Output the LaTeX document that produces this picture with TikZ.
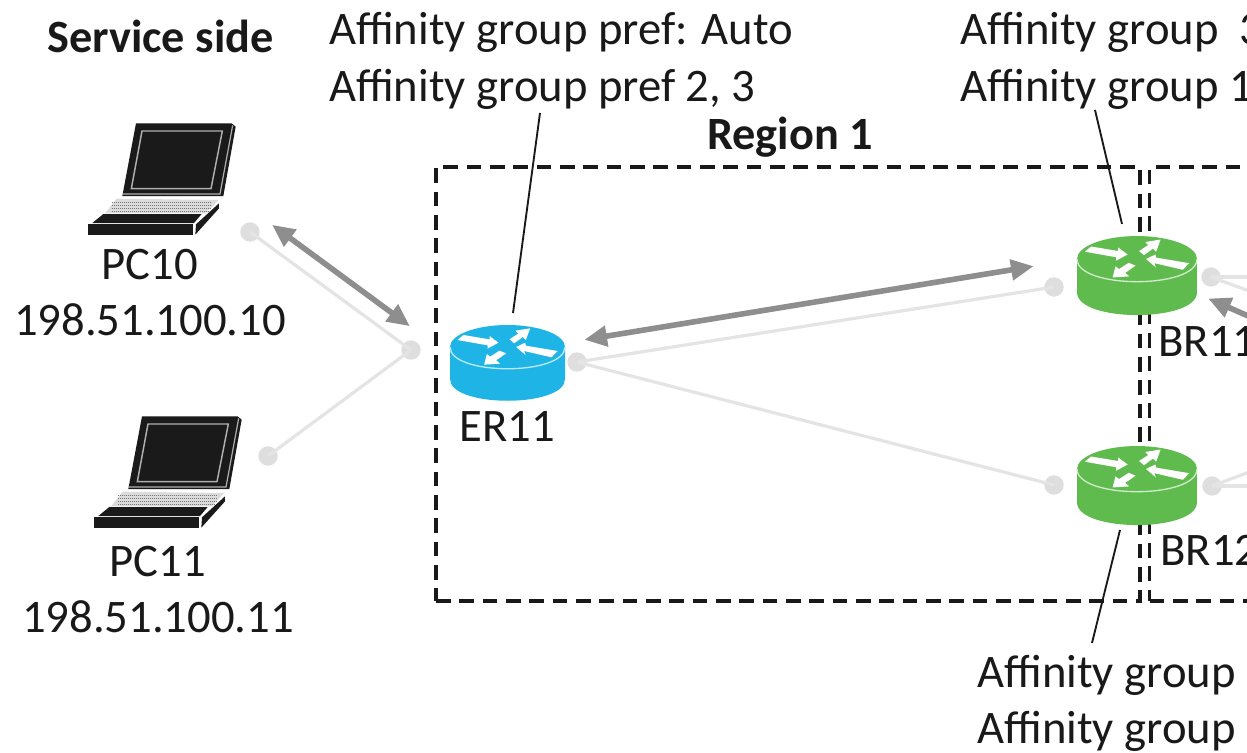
\documentclass[tikz,border=0pt]{standalone}
\usepackage{fontspec}
\usetikzlibrary{arrows.meta}
\setmainfont{Carlito}
\definecolor{dotgrey}{HTML}{DEDEDE}
\definecolor{linegrey}{HTML}{E4E4E4}
\definecolor{arrowgrey}{HTML}{8E8E8E}
\definecolor{erblue}{HTML}{1FB4E6}
\definecolor{brgreen}{HTML}{5FBB4E}
\definecolor{lapblack}{HTML}{1A1A1A}
\definecolor{lapgrey}{HTML}{B0B0B0}
\definecolor{keygrey}{HTML}{DCDCDC}
\tikzset{
  lbl/.style={inner sep=0pt,font=\fontsize{35}{40}\selectfont,text=black!90},
  lblb/.style={lbl,font=\fontsize{34.7}{40}\selectfont\bfseries},
  dotnode/.style={circle,fill=dotgrey,inner sep=0pt,minimum size=14.5pt},
  lightlink/.style={draw=linegrey,line width=2.4pt},
  flow/.style={draw=arrowgrey,line width=4.2pt,shorten >=1pt,shorten <=1pt},
  region/.style={draw=black!90,line width=2.6pt,dash pattern=on 11pt off 6.5pt,outer sep=0pt,inner sep=0pt},
  leader/.style={draw=black!90,line width=1.4pt},
  pics/router/.style={code={
    \fill[#1] (-57.5,0) -- (-57.5,32) .. controls (-57.5,61) and (57.5,61) .. (57.5,32) -- (57.5,0) -- cycle;
    \fill[#1] (0,0) ellipse [x radius=57.5,y radius=22];
    \draw[white!70!#1,line width=1pt] (-57.5,0) .. controls (-57.5,29) and (57.5,29) .. (57.5,0);
    \begin{scope}[scale=.33333,shift={(-232,-141)}]
      \fill[white] (82,120)--(100,105)--(178,118)--(178,108)--(205,128)--(172,146)--(172,136)--cycle;
      \fill[white] (300,85)--(256,92)--(264,101)--(238,118)--(252,130)--(278,111)--(287,120)--cycle;
      \fill[white] (258,141)--(285,128)--(287,137)--(382,153)--(364,172)--(282,153)--(286,165)--cycle;
      \fill[white] (162,194)--(170,162)--(180,170)--(208,152)--(228,160)--(198,181)--(210,191)--cycle;
    \end{scope}
  }},
  pics/laptop/.style={code={
    \begin{scope}[scale=.33333]
      \fill[lapblack] (228,70)--(515,70)--(527,80)--(490,288)--(187,288)--cycle;
      \draw[lapgrey,line width=.9pt] (518,76)--(480,282)--(187,282);
      \draw[lapgrey,line width=1.1pt] (246,93)--(487,93)--(453,266)--(214,266)--cycle;
      \fill[keygrey] (170,296)--(475,300)--(438,340)--(135,340)--cycle;
      \foreach \k in {306,315,324,333} {\draw[lapblack!60,line width=.5pt,densely dotted] (155,\k)--(450,\k);}
      \fill[lapblack] (130,342)--(425,342)--(402,369)--(97,369)--cycle;
      \fill[lapblack] (85,373)--(400,373)--(400,404)--(85,404)--cycle;
      \fill[lapblack] (408,373)--(477,310)--(477,325)--(406,404)--cycle;
    \end{scope}
  }}
}
\begin{document}
\begin{tikzpicture}[x=.75pt,y=-.75pt]
\useasboundingbox (0,0) rectangle (1247,753);
\fill[white] (0,0) rectangle (1247,753);
\clip (0,0) rectangle (1247,753);

% free ends
\coordinate (e1a) at (1260,277);
\coordinate (e1b) at (1260,295);
\coordinate (e2a) at (1260,486);
\coordinate (e2b) at (1260,468);
\coordinate (e3) at (1262,322);
\coordinate (t3) at (1207,298);

% regions
\node[region,minimum width=528pt,minimum height=325.5pt,anchor=north west] (reg1) at (436,167) {};
\node[region,minimum width=300pt,minimum height=325.5pt,anchor=north west] (reg2) at (1149.5,167) {};

% junction dots
\node[dotnode] (d10) at (250,232) {};
\node[dotnode] (hub) at (411,350) {};
\node[dotnode] (d11) at (268,456) {};
\node[dotnode] (der) at (577,362) {};
\node[dotnode] (dbr1l) at (1054,287) {};
\node[dotnode] (dbr2l) at (1054,485) {};
\node[dotnode] (dbr1r) at (1211,277) {};
\node[dotnode] (dbr2r) at (1212,486) {};

\draw[lightlink] (d10.center) -- (hub.center);
\draw[lightlink] (d11.center) -- (hub.center);
\draw[lightlink] (der.center) -- (dbr1l.center);
\draw[lightlink] (der.center) -- (dbr2l.center);
\draw[lightlink] (dbr1r.center) -- (e1a);
\draw[lightlink] (dbr1r.center) -- (e1b);
\draw[lightlink] (dbr2r.center) -- (e2a);
\draw[lightlink] (dbr2r.center) -- (e2b);

% routers and laptops
\pic at (507.5,347) {router=erblue};
\pic[scale=1.043] at (1137,259) {router=brgreen};
\pic[scale=1.043] at (1137,469) {router=brgreen};
\pic at (60,100) {laptop};
\pic at (66,393) {laptop};

\coordinate (er) at (513,313);
\coordinate (brt) at (1122,224);
\coordinate (brb) at (1120,530);

% flows
\coordinate (f1a) at (271,224); \coordinate (f1b) at (411,327);
\coordinate (f2a) at (583,340); \coordinate (f2b) at (1035,266);
\draw[flow,{Triangle[length=17pt,width=15pt]}-{Triangle[length=17pt,width=15pt]}] (f1a) -- (f1b);
\draw[flow,{Triangle[length=17pt,width=15pt]}-{Triangle[length=17pt,width=15pt]}] (f2a) -- (f2b);
\draw[flow,-{Triangle[length=17pt,width=15pt]}] (e3) -- (t3);

% text
\node[lblb,anchor=base west] (ss) at (47,52) {Service side};
\node[lbl,anchor=base west] (ap1) at (329,44.5) {Affinity group pref: Auto};
\node[lbl,anchor=base west] (ap2) at (329,101) {Affinity group pref 2, 3};
\node[lbl,anchor=base west] (ag1) at (960,44.5) {Affinity group\ \ 3};
\node[lbl,anchor=base west] (ag2) at (960,101) {Affinity group 1};
\node[lblb,anchor=base] (r1) at (790,149.5) {Region 1};
\node[lbl,anchor=base] (pc10) at (150,279) {PC10};
\node[lbl,anchor=base] (ip10) at (150,335) {198.51.100.10};
\node[lbl,anchor=base] (pc11) at (158,576) {PC11};
\node[lbl,anchor=base] (ip11) at (158,632) {198.51.100.11};
\node[lbl,anchor=base] (er11) at (507,441) {ER11};
\node[lbl,anchor=base west] (br11) at (1158,356) {BR11};
\node[lbl,anchor=base west] (br12) at (1160,565) {BR12};
\node[lbl,anchor=base west] (bg1) at (977,687) {Affinity group};
\node[lbl,anchor=base west] (bg2) at (977,743) {Affinity group};

% leaders
\coordinate (l1) at (540,113);
\coordinate (l2) at (1095,110);
\coordinate (l3) at (1092,643);
\draw[leader] (l1) -- (er);
\draw[leader] (l2) -- (brt);
\draw[leader] (brb) -- (l3);
\end{tikzpicture}
\end{document}
